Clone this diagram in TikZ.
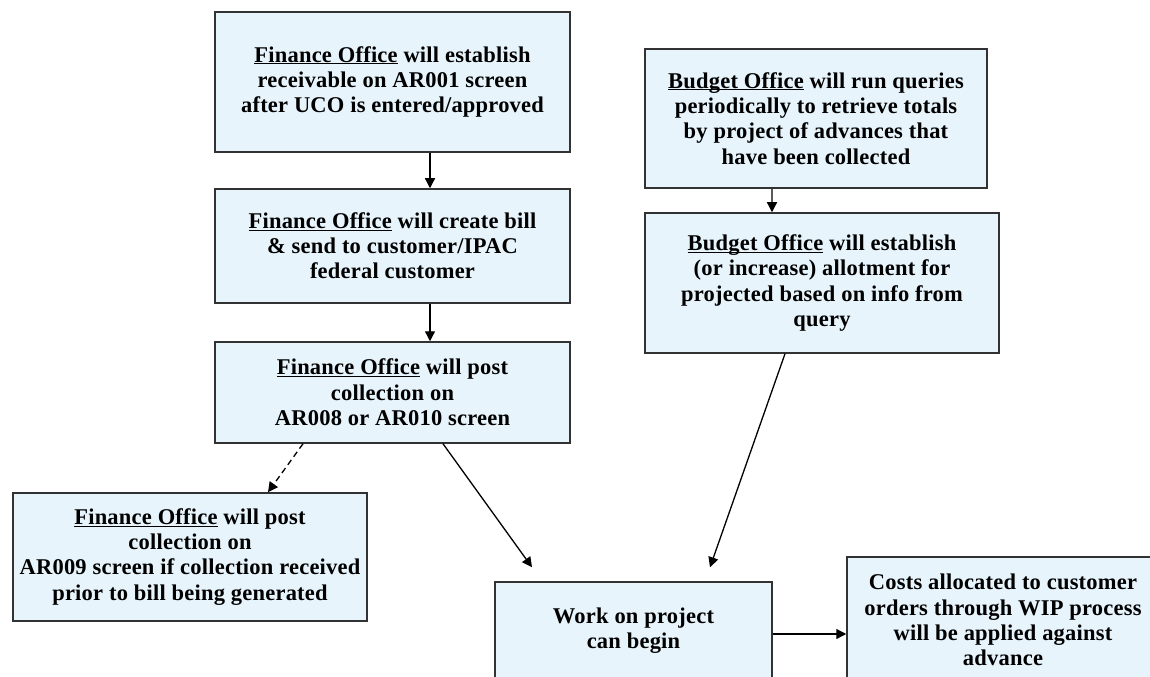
\documentclass[tikz,border=0pt]{standalone}
\usepackage{fontspec}
\setmainfont{Liberation Serif}[LetterSpace=1.0]
\usetikzlibrary{arrows.meta,calc}
\definecolor{boxfill}{RGB}{231,244,252}
\definecolor{boxline}{RGB}{50,50,50}
\tikzset{
  stepbox/.style={draw=boxline, line width=1.5bp, fill=boxfill, align=center,
    inner sep=0pt, font=\fontsize{22.5bp}{25.3bp}\selectfont\bfseries},
  arr/.style={draw=black, line width=1.3bp, -{Triangle[length=10bp,width=10bp]}},
  darr/.style={arr, dash pattern=on 6bp off 4bp}
}
% office name with an underline at a fixed depth below the baseline
\newcommand{\office}[1]{\underline{\smash{#1}}}
\begin{document}
\begin{tikzpicture}[x=1bp,y=-1bp]
  \useasboundingbox (0,0) rectangle (1150,677);
  \fill[white] (0,0) rectangle (1150,677);
  \clip (0,0) rectangle (1150,677);

  % finance office column
  \node[stepbox, minimum width=355bp, minimum height=140bp] (a) at (392.5,82)
    {\office{Finance Office} will establish\\receivable on AR001 screen\\after UCO is entered/approved};
  \node[stepbox, minimum width=355bp, minimum height=114bp] (b) at (392.5,246)
    {\office{Finance Office} will create bill\\\& send to customer/IPAC\\federal customer};
  \node[stepbox, minimum width=355bp, minimum height=101bp] (c) at (392.5,392.5)
    {\office{Finance Office} will post\\collection on\\AR008 or AR010 screen};
  \node[stepbox, minimum width=354bp, minimum height=128bp] (d) at (190,557)
    {\office{Finance Office} will post\\collection on\\AR009 screen if collection received\\prior to bill being generated};

  % budget office column
  \node[stepbox, minimum width=342bp, minimum height=139bp] (f) at (816,118.5)
    {\office{Budget Office} will run queries\\periodically to retrieve totals\\by project of advances that\\have been collected};
  \node[stepbox, minimum width=354bp, minimum height=140bp] (e) at (822,283)
    {\office{Budget Office} will establish\\(or increase) allotment for\\projected based on info from\\query};

  % outcome
  \node[stepbox, minimum width=277bp, minimum height=98bp] (w) at (633.5,631)
    {Work on project\\can begin};
  \node[stepbox, minimum width=312bp, minimum height=126bp] (k) at (1003,620)
    {Costs allocated to customer\\orders through WIP process\\will be applied against\\advance};

  % connectors
  \draw[arr] ([xshift=37.5bp]a.south) -- ([xshift=37.5bp]b.north);
  \draw[arr] ([xshift=37.5bp]b.south) -- ([xshift=37.5bp]c.north);
  \draw[arr] ([xshift=-44bp]f.south) -- ([xshift=-50bp]e.north);
  \draw[darr] ([xshift=-89.5bp]c.south) -- ([xshift=78bp]d.north);
  \coordinate (wl) at ($(w.north)+(-101.5,-14)$);
  \coordinate (wr) at ($(w.north)+(76.5,-14)$);
  \draw[arr] ([xshift=50.5bp]c.south) -- (wl);
  \draw[arr] ([xshift=-37bp]e.south) -- (wr);
  \draw[arr] ([yshift=-3bp]w.east) -- ([yshift=-3bp]w.east -| k.west);
\end{tikzpicture}
\end{document}
